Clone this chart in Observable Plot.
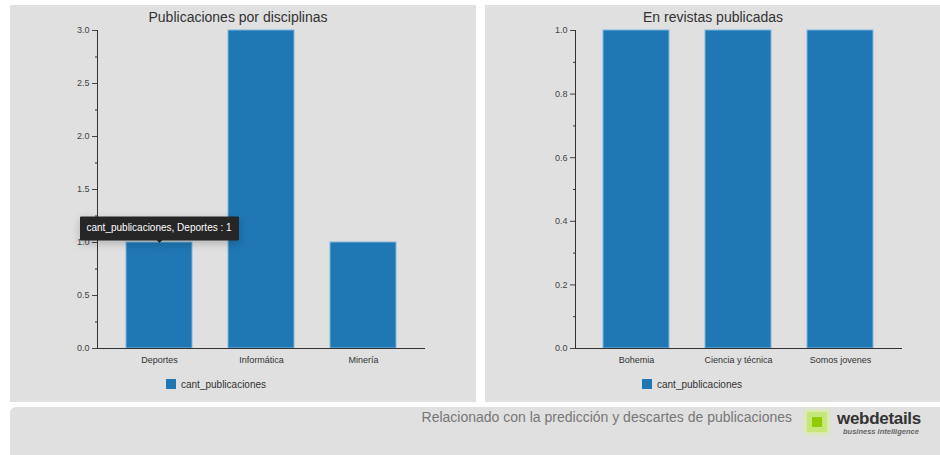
<!DOCTYPE html>
<html>
<head>
<meta charset="utf-8">
<script src="https://cdn.jsdelivr.net/npm/d3@7"></script>
<script src="https://cdn.jsdelivr.net/npm/@observablehq/plot@0.6"></script>
<style>
  html, body { margin: 0; padding: 0; background: #fff; }
  body { width: 940px; height: 455px; position: relative; overflow: hidden; font-family: "Liberation Sans", Arial, sans-serif; }
  .panel { position: absolute; top: 5px; height: 397px; background: #e0e0e0; overflow: hidden; }
  .title { height: 20px; line-height: 24px; font-size: 14px; color: #333; text-align: center; width: 456px; white-space: nowrap; }
  .legend { margin-top: 5px; height: 12px; display: flex; align-items: center; font-size: 10px; color: #333; }
  .legend .sw { width: 10px; height: 10px; background: #1f77b4; margin-right: 5px; }
  .ttip text, .ttip tspan { fill: #fff !important; }
  #footer { position: absolute; left: 10px; top: 407px; width: 960px; height: 70px; background: #e0e0e0; border-radius: 6px; }
  #foottext { position: absolute; right: 148px; top: 407px; font-size: 14px; color: #777; line-height: 20px; white-space: nowrap; }
  #logo { position: absolute; left: 807px; top: 412px; width: 20px; height: 20px; background: #c6e87a; box-shadow: 0 0 4px 2px #d5ef9a; }
  #logo div { position: absolute; left: 5px; top: 5px; width: 10px; height: 10px; background: #8fcc00; }
  #wd { position: absolute; left: 837px; top: 409px; font-size: 17px; font-weight: bold; color: #333; letter-spacing: -0.3px; line-height: 20px; }
  #bi { position: absolute; left: 843px; top: 427px; font-size: 7.5px; font-style: italic; font-weight: bold; color: #666; line-height: 9px; }
</style>
</head>
<body>
<div class="panel" id="p1" style="left:10px;width:466px;"></div>
<div class="panel" id="p2" style="left:485px;width:460px;"></div>
<div id="footer"></div>
<div id="foottext">Relacionado con la predicción y descartes de publicaciones</div>
<div id="logo"><div></div></div>
<div id="wd">webdetails</div>
<div id="bi">business intelligence</div>
<script>
// ---- data ----
const seriesName = "cant_publicaciones";
const title1 = "Publicaciones por disciplinas";
const disciplinas = ["Deportes", "Informática", "Minería"];
const pubDisciplina = [1, 3, 1];
const yTicks1 = [0, 0.5, 1, 1.5, 2, 2.5, 3];
const yMinor1 = [0.25, 0.75, 1.25, 1.75, 2.25, 2.75];

const title2 = "En revistas publicadas";
const revistas = ["Bohemia", "Ciencia y técnica", "Somos jovenes"];
const pubRevista = [1, 1, 1];
const yTicks2 = [0, 0.2, 0.4, 0.6, 0.8, 1];
const yMinor2 = [0.1, 0.3, 0.5, 0.7, 0.9];

const tipCategory = "Deportes";

function chart(el, title, cats, vals, domain, ticks, minor, width, ml, mr, legendLeft, tipCat) {
  const data = cats.map((c, i) => ({cat: c, v: vals[i]}));
  const t = document.createElement("div");
  t.className = "title";
  t.textContent = title;
  el.appendChild(t);
  const marks = [
    Plot.barY(data, {x: "cat", y: "v", fill: "#1f77b4", stroke: "#80b5dc", strokeWidth: 1}),
    Plot.axisY({ticks: ticks, tickFormat: d3.format(".1f"), tickSize: 5, tickPadding: 3, fontSize: 9, color: "#444", label: null}),
    Plot.axisY({ticks: minor, tickSize: 2, label: null, stroke: "#333", fill: "none"}),
    Plot.axisX({tickSize: 0, tickPadding: 8, fontSize: 9, color: "#333", label: null}),
    Plot.frame({anchor: "left", stroke: "#333"}),
    Plot.ruleY([0], {stroke: "#333"})
  ];
  if (tipCat) {
    const td = data.filter(d => d.cat === tipCat);
    marks.push(Plot.tip(td, {x: "cat", y: "v", title: d => `${seriesName}, ${d.cat} : ${d.v}`, anchor: "bottom", fill: "#262626", stroke: "#262626", pointerSize: 5, textPadding: 6, fontSize: 10, className: "ttip"}));
  }
  const svg = Plot.plot({
    width: width,
    height: 348,
    marginTop: 5,
    marginBottom: 25,
    marginLeft: ml,
    marginRight: mr,
    style: {background: "transparent", fontFamily: "'Liberation Sans', Arial, sans-serif", color: "#333", overflow: "visible"},
    x: {domain: cats, paddingInner: 0.35, paddingOuter: 0.275, label: null, axis: null},
    y: {domain: domain, label: null, axis: null},
    marks
  });
  el.appendChild(svg);
  const lg = document.createElement("div");
  lg.className = "legend";
  lg.style.paddingLeft = legendLeft + "px";
  lg.innerHTML = `<div class="sw"></div><span>${seriesName}</span>`;
  el.appendChild(lg);
}

chart(document.getElementById("p1"), title1, disciplinas, pubDisciplina, [0, 3], yTicks1, yMinor1, 466, 87, 51, 156, tipCategory);
chart(document.getElementById("p2"), title2, revistas, pubRevista, [0, 1], yTicks2, yMinor2, 460, 90, 43, 157, null);
</script>
</body>
</html>
